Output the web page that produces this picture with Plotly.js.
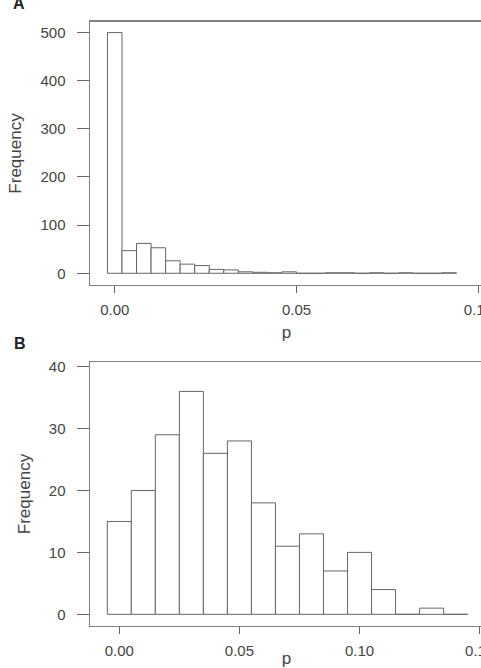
<!DOCTYPE html>
<html>
<head>
<meta charset="utf-8">
<script src="https://cdn.plot.ly/plotly-3.0.1.min.js"></script>
<style>
html, body { margin: 0; padding: 0; overflow: hidden; background: #fff; }
#chart { width: 500px; height: 668px; }
</style>
</head>
<body>
<div id="chart"></div>
<script>
// Panel A: histogram of p (bin width 0.004)
const binCentersA = [0.000, 0.004, 0.008, 0.012, 0.016, 0.020, 0.024, 0.028,
                     0.032, 0.036, 0.040, 0.044, 0.048, 0.052, 0.056, 0.060,
                     0.064, 0.068, 0.072, 0.076, 0.080, 0.084, 0.088, 0.092];
const binWidthA = 0.004;
const countsA = [500, 47, 62, 53, 26, 19, 16, 8, 7, 3, 2, 1, 3, 0, 0, 1,
                 1, 0, 1, 0, 1, 0, 0, 1];
const xTicksA = [0, 0.05, 0.1];
const yTicksA = [0, 100, 200, 300, 400, 500];

// Panel B: histogram of p (bin width 0.01)
const binCentersB = [0.00, 0.01, 0.02, 0.03, 0.04, 0.05, 0.06, 0.07,
                     0.08, 0.09, 0.10, 0.11, 0.12, 0.13, 0.14];
const binWidthB = 0.01;
const countsB = [15, 20, 29, 36, 26, 28, 18, 11, 13, 7, 10, 4, 0, 1, 0];
const xTicksB = [0, 0.05, 0.10, 0.15];
const yTicksB = [0, 10, 20, 30, 40];

const panelLabels = ['A', 'B'];
const xTitle = 'p';
const yTitle = 'Frequency';

const FONT = '"Liberation Sans", Arial, sans-serif';
const barStyle = { color: '#ffffff', line: { color: '#666666', width: 1 } };

const traces = [
  { type: 'bar', x: binCentersA, y: countsA, width: binCentersA.map(() => binWidthA),
    marker: barStyle, xaxis: 'x', yaxis: 'y', hoverinfo: 'x+y' },
  { type: 'bar', x: binCentersB, y: countsB, width: binCentersB.map(() => binWidthB),
    marker: barStyle, xaxis: 'x2', yaxis: 'y2', hoverinfo: 'x+y' }
];

function xAxis(ticks, range, anchor) {
  return {
    anchor: anchor, domain: [0, 1], range: range,
    tickmode: 'array', tickvals: ticks, tickformat: '.2f',
    ticks: 'outside', ticklen: 7, tickwidth: 1, tickcolor: '#666',
    ticklabelstandoff: 4,
    tickfont: { family: FONT, size: 15, color: '#444' },
    showline: true, mirror: true, linecolor: '#808080', linewidth: 1.5,
    showgrid: false, zeroline: false,
    title: { text: xTitle, font: { family: FONT, size: 17, color: '#444' }, standoff: 8 }
  };
}
function yAxis(ticks, range, domain, anchor) {
  return {
    anchor: anchor, domain: domain, range: range,
    tickmode: 'array', tickvals: ticks,
    ticks: 'outside', ticklen: 12, tickwidth: 1, tickcolor: '#666',
    ticklabelstandoff: 8,
    tickfont: { family: FONT, size: 15, color: '#444' },
    showline: true, mirror: true, linecolor: '#808080', linewidth: 1.5,
    showgrid: false, zeroline: false,
    title: { text: yTitle, font: { family: FONT, size: 17, color: '#444' }, standoff: 14 }
  };
}

const layout = {
  width: 500, height: 668,
  margin: { l: 90, r: 17, t: 0, b: 0 },
  paper_bgcolor: '#fff', plot_bgcolor: '#fff',
  showlegend: false, bargap: 0,
  xaxis: xAxis(xTicksA, [-0.0068, 0.1013], 'y'),
  yaxis: yAxis(yTicksA, [-24.3, 522], [0.5734, 0.9671], 'x'),
  xaxis2: xAxis(xTicksB, [-0.0122, 0.1514], 'y2'),
  yaxis2: yAxis(yTicksB, [-1.84, 40.7], [0.0633, 0.4576], 'x2'),
  annotations: [
    { text: '<b>' + panelLabels[0] + '</b>', xref: 'paper', yref: 'paper', x: 0, y: 1,
      xanchor: 'center', yanchor: 'middle', xshift: -71, yshift: -3.5, showarrow: false,
      font: { family: FONT, size: 16, color: '#222' } },
    { text: '<b>' + panelLabels[1] + '</b>', xref: 'paper', yref: 'paper', x: 0, y: 0.4576,
      xanchor: 'center', yanchor: 'middle', xshift: -70, yshift: 19, showarrow: false,
      font: { family: FONT, size: 16, color: '#222' } }
  ]
};

Plotly.newPlot('chart', traces, layout, { staticPlot: true, displayModeBar: false });
</script>
</body>
</html>
